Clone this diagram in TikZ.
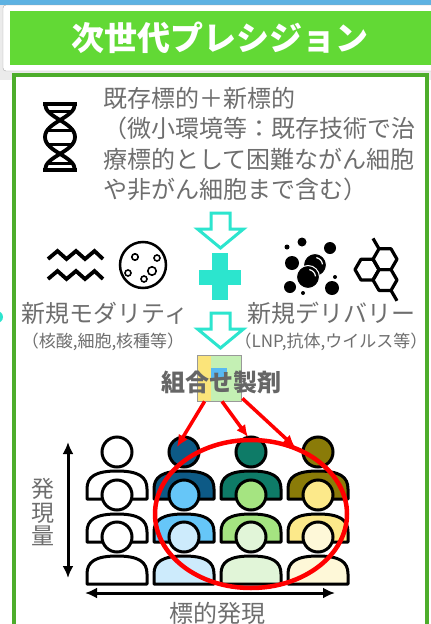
\documentclass[tikz,border=0pt]{standalone}
\usepackage{fontspec}
\setmainfont{Noto Sans CJK JP}
\usepackage{xcolor}
\usepackage{tikz}
\usetikzlibrary{calc, arrows.meta, positioning}

\definecolor{xanhtroi}{HTML}{5DB2E2}
\definecolor{tieude}{HTML}{62D935}
\definecolor{khung}{HTML}{4DAD2B}
\definecolor{xam}{HTML}{6E6E6E}
\definecolor{lam}{HTML}{2CE5CE}
\definecolor{vangnhat}{HTML}{FBE47A}
\definecolor{xanhnhat}{HTML}{C4F0B4}
\definecolor{xanhhop}{HTML}{58B9F2}
\definecolor{duong1}{HTML}{0D5A86}
\definecolor{duong2}{HTML}{66C6F8}
\definecolor{duong3}{HTML}{CDEBFC}
\definecolor{luc1}{HTML}{0E7B67}
\definecolor{luc2}{HTML}{A5E481}
\definecolor{luc3}{HTML}{E1F5D8}
\definecolor{vang1}{HTML}{8A7B08}
\definecolor{vang2}{HTML}{FCE98A}
\definecolor{vang3}{HTML}{FEF8D8}

% con người: tâm x, tâm đầu y, màu
\newcommand{\conguoi}[3]{%
    \filldraw[fill=#3, line width=3, line join=round] (#1-30,#2+47) -- (#1-30,#2+37)
        .. controls (#1-30,#2+25) and (#1-22,#2+19) .. (#1,#2+19)
        .. controls (#1+22,#2+19) and (#1+30,#2+25) .. (#1+30,#2+37) -- (#1+30,#2+47) -- cycle;
    \filldraw[fill=#3, line width=3] (#1,#2) circle (15);
}

\tikzset{
    chu/.style={text=xam, inner sep=0},
    muiten/.style={lam, line width=3, fill=white, line join=miter},
}

\begin{document}
\begin{tikzpicture}[>={Latex[length=12pt, width=11pt]}, x=1pt, y=-1pt]
    \useasboundingbox (0,0) rectangle (431,624);
    % Nền và thanh tiêu đề
    \fill[white] (0,0) rectangle (431,624);
    \fill[black!8] (0,5) rectangle (431,80);
    \fill[xanhtroi] (0,0) rectangle (431,5);
    \draw[black!35, fill=white, rounded corners=3] (3,5) rectangle (445,71);
    \fill[tieude] (10,11) rectangle (431,65);
    \node[text=white, inner sep=0, font=\fontsize{33}{33}\selectfont\bfseries] (tieude) at (220,38) {次世代プレシジョン};
    \fill[lam] (-3,317) circle (6);
    % Khung chính
    \draw[khung, line width=4, fill=white] (13.5,75) rectangle (427,650);

    % Biểu tượng ADN
    \begin{scope}[line width=3.8, line cap=butt]
        \draw (45,104) .. controls (45,118) and (75,122) .. (75,137) .. controls (75,152) and (45,156) .. (45,170);
        \draw (75,104) .. controls (75,118) and (45,122) .. (45,137) .. controls (45,152) and (75,156) .. (75,170);
        \foreach \y in {104,170} {
            \draw (43,\y) -- (77,\y);
        }
        \foreach \y in {111,130,144,163} {
            \draw[line width=3] (48,\y) -- (72,\y);
        }
    \end{scope}
    \node[chu, anchor=north west, align=left, font=\fontsize{24}{30.5}\selectfont] (muctieu) at (103,87)
        {既存標的＋新標的\\（微小環境等：既存技術で治\\療標的として困難ながん細胞\\や非がん細胞まで含む）};

    % Mũi tên xuống và dấu cộng
    \foreach \t in {213,313} {
        \draw[muiten] (211,\t) -- (230,\t) -- (230,\t+16) -- (243.5,\t+16) -- (220.5,\t+35) -- (197.5,\t+16) -- (211,\t+16) -- cycle;
    }
    \fill[lam] (199,270) rectangle (241,285);
    \fill[lam] (212,253) rectangle (228,300);

    % Biểu tượng sóng và tế bào
    \begin{scope}[line width=3.8, line join=miter]
        \foreach \y in {0,20} {
            \draw (48,259+\y) -- (57.5,251+\y) -- (66.5,259+\y) -- (76,251+\y) -- (85,259+\y) -- (94.5,251+\y) -- (103,259+\y);
        }
    \end{scope}
    \draw[line width=2.5] (143,265) circle (23);
    \foreach \x/\y/\r in {135/257/3.2, 157/258/3, 128/273/3, 152/271/4.2, 144/279/3} {
        \draw[line width=1.6] (\x,\y) circle (\r);
    }
    \node[chu, font=\fontsize{24}{24}\selectfont] (modality) at (105,313) {新規モダリティ};
    \node[chu, font=\fontsize{17}{17}\selectfont] (modality2) at (103,342) {（核酸,細胞,核種等）};

    % Biểu tượng hạt và vòng lục giác
    \foreach \x/\y/\r in {292/263/7, 330/248/6, 302/242/4.5, 290/287/6, 332/288/7, 287/247/2.5, 335/277/2, 303/293/2} {
        \fill (\x,\y) circle (\r);
    }
    \foreach \x/\y in {315/265, 308/277} {
        \filldraw[draw=white, line width=1] (\x,\y) circle (11.5);
        \draw[white, line width=1.2] (\x,\y) ++(-80:7.5) arc (-80:-5:7.5);
    }
    \begin{scope}[line width=3.2, line join=round]
        \foreach \cx/\cy in {385/259.2, 367/269.6, 385/280} {
            \draw (\cx+12,\cy) -- (\cx+6,\cy+10.4) -- (\cx-6,\cy+10.4) -- (\cx-12,\cy) -- (\cx-6,\cy-10.4) -- (\cx+6,\cy-10.4) -- cycle;
        }
        \draw (379,248.8) -- (373,238.4);
        \draw (391,290.4) -- (397,300.8);
    \end{scope}
    \node[chu, font=\fontsize{24}{24}\selectfont] (delivery) at (331,313) {新規デリバリー};
    \node[chu, font=\fontsize{17}{17}\selectfont] (delivery2) at (331,342) {（LNP,抗体,ウイルス等）};

    % Hộp chế phẩm kết hợp
    \fill[vangnhat] (197,355) rectangle (211,401);
    \fill[xanhnhat] (211,355) rectangle (241,401);
    \fill[xanhhop] (211,368) rectangle (227,378);
    \node[draw=black!40, line width=0.8, minimum width=44pt, minimum height=46pt, inner sep=0] (ghep) at (219,378) {};
    \node[chu, text=black!60, font=\fontsize{24}{24}\selectfont\bfseries] (tenghep) at (221,382) {組合せ製剤};

    % Lưới người theo mức biểu hiện
    \foreach \cx/\ca/\cb/\cc in {117/white/white/white, 184/duong1/duong2/duong3, 251/luc1/luc2/luc3, 318/vang1/vang2/vang3} {
        \conguoi{\cx}{452}{\ca}
        \conguoi{\cx}{495}{\cb}
        \conguoi{\cx}{537}{\cc}
    }
    \draw[red, line width=4.5] (251,514) ellipse [x radius=96, y radius=74];

    % Mũi tên đỏ
    \coordinate (dich1) at (177,447);
    \coordinate (dich2) at (248,437);
    \coordinate (dich3) at (295,447);
    \draw[->, red, line width=3.5] ($(ghep.south west)+(8,0)$) -- (dich1);
    \draw[->, red, line width=3.5] ($(ghep.south)+(3,0)$) -- (dich2);
    \draw[->, red, line width=3.5] ($(ghep.south east)+(1,-3)$) -- (dich3);

    % Trục
    \coordinate (tren) at (68,442);
    \coordinate (duoi) at (68,578);
    \coordinate (trai) at (85,593);
    \coordinate (phai) at (335,593);
    \draw[<->, line width=3] (tren) -- (duoi);
    \draw[<->, line width=3] (trai) -- (phai);
    \node[chu, align=center, font=\fontsize{23}{23.5}\selectfont] (luong) at (43,512) {発\\現\\量};
    \node[chu, font=\fontsize{24}{24}\selectfont] (bieuhien) at (217.5,613) {標的発現};
\end{tikzpicture}
\end{document}
